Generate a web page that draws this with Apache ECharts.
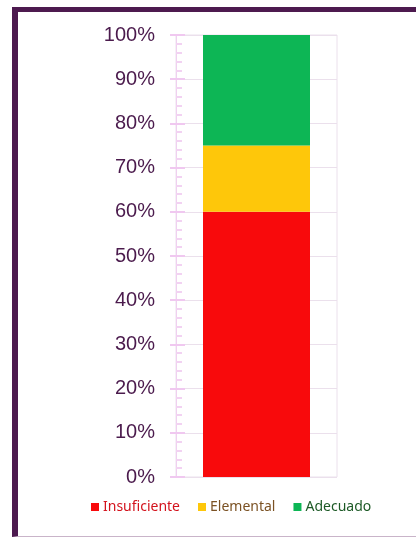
<!DOCTYPE html>
<html>
<head>
<meta charset="utf-8">
<script src="https://cdn.jsdelivr.net/npm/echarts@6/dist/echarts.min.js"></script>
<style>
    html, body { margin: 0; padding: 0; background: #fff; }
    #frame {
        position: absolute; left: 12px; top: 7px; width: 404px; height: 530px;
        border-left: 6px solid #4d1a4f; border-top: 5px solid #4d1a4f;
        border-bottom: 1px solid #c9b4c9; box-sizing: border-box;
    }
    #main { position: absolute; left: 0; top: 0; width: 416px; height: 538px; }
</style>
</head>
<body>
<div id="frame"></div>
<div id="main"></div>
<script type="text/javascript">
    // datos
    var categorias = [''];
    var niveles = ['Insuficiente', 'Elemental', 'Adecuado'];
    var valores = [60, 15, 25];
    var colores = ['#f80a0c', '#fec70a', '#0db655'];
    var coloresTexto = ['#d3121c', '#7b5224', '#1d5a26'];

    var myChart = echarts.init(document.getElementById('main'));

    var series = niveles.map(function (n, i) {
        return {
            name: n,
            type: 'bar',
            stack: 'total',
            barWidth: 107,
            data: [valores[i]],
            itemStyle: {color: colores[i]}
        };
    });

    myChart.setOption({
        animation: false,
        grid: {
            left: 176, right: 79, top: 35, bottom: 61,
            show: true, borderColor: '#ebe0ec', borderWidth: 1
        },
        legend: {
            bottom: 19,
            left: 86,
            itemWidth: 8,
            itemHeight: 8,
            itemGap: 18,
            icon: 'rect',
            data: niveles.map(function (n, i) {
                return {name: n, textStyle: {color: coloresTexto[i]}};
            }),
            textStyle: {fontSize: 14, fontFamily: 'Noto Sans', padding: [0, 0, 0, -1]}
        },
        xAxis: {
            type: 'category',
            data: categorias,
            axisLine: {show: false},
            axisTick: {show: false},
            axisLabel: {show: false}
        },
        yAxis: [{
            type: 'value',
            min: 0, max: 100, interval: 10,
            axisLine: {show: true, lineStyle: {color: '#f0d0f0', width: 1}},
            axisTick: {show: true, length: 6, lineStyle: {color: '#f0c8f0', width: 2}},
            axisLabel: {
                formatter: '{value}%', color: '#4b1b4d', fontSize: 20,
                fontFamily: 'Liberation Sans', margin: 21
            },
            splitLine: {lineStyle: {color: '#ebe0ec'}}
        }, {
            type: 'value',
            position: 'left',
            min: 0, max: 100, interval: 10,
            axisLine: {show: false},
            axisTick: {show: true, inside: true, length: 9, lineStyle: {color: '#f0c8f0', width: 2}},
            minorTick: {show: true, splitNumber: 5, length: 6, lineStyle: {color: '#f2d2f2', width: 2}},
            axisLabel: {show: false},
            splitLine: {show: false}
        }],
        series: series
    });
</script>
</body>
</html>
